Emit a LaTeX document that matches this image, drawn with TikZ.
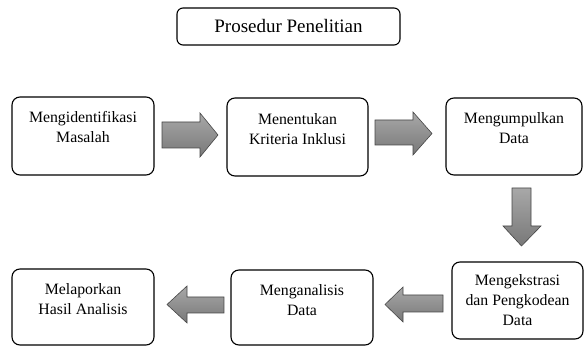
\documentclass[tikz,border=0pt]{standalone}
\usepackage{fontspec}
\setmainfont{Liberation Serif}
\begin{document}
\begin{tikzpicture}[x=1pt,y=-1pt,
  stepbox/.style={draw=black, line width=1.1pt, rounded corners=8pt, fill=white, inner sep=0pt},
  steptext/.style={anchor=north, align=center, inner sep=0pt, font=\fontsize{15.8}{20}\selectfont},
  blockarrow/.style={draw={rgb,255:red,70;green,70;blue,70}, line width=0.6pt,
    top color={rgb,255:red,168;green,168;blue,168}, bottom color={rgb,255:red,120;green,120;blue,120}}]
\useasboundingbox (0,0) rectangle (584,347);

% title
\node[stepbox, rounded corners=6pt, minimum width=223pt, minimum height=37pt,
      font=\fontsize{19}{22}\selectfont] (title) at (288.5,26.5) {Prosedur Penelitian};

% boxes
\node[stepbox, minimum width=142pt, minimum height=78pt] (b1) at (83,136) {};
\node[stepbox, minimum width=141pt, minimum height=78pt] (b2) at (297.5,137) {};
\node[stepbox, minimum width=136pt, minimum height=77pt] (b3) at (514,136.5) {};
\node[stepbox, minimum width=131pt, minimum height=77pt] (b4) at (517.5,300.5) {};
\node[stepbox, minimum width=142pt, minimum height=75pt] (b5) at (302,307.5) {};
\node[stepbox, minimum width=142pt, minimum height=76pt] (b6) at (83,307) {};

% texts
\node[steptext] (t1) at ([yshift=-15pt]b1.north) {Mengidentifikasi\\Masalah};
\node[steptext] (t2) at ([yshift=-16pt]b2.north) {Menentukan\\Kriteria Inklusi};
\node[steptext] (t3) at ([yshift=-15pt]b3.north) {Mengumpulkan\\Data};
\node[steptext] (t4) at ([yshift=-13pt]b4.north) {Mengekstrasi\\dan Pengkodean\\Data};
\node[steptext] (t5) at ([yshift=-15pt]b5.north) {Menganalisis\\Data};
\node[steptext] (t6) at ([yshift=-15pt]b6.north) {Melaporkan\\Hasil Analisis};

% block arrows
\path[blockarrow] (162,122) -- (200,122) -- (200,113) -- (218,135) -- (200,157) -- (200,148) -- (162,148) -- cycle;
\path[blockarrow] (375,120) -- (413,120) -- (413,112) -- (432,133.5) -- (413,155) -- (413,145) -- (375,145) -- cycle;
\path[blockarrow] (512,188) -- (531,188) -- (531,226) -- (541,226) -- (521.5,246) -- (503,226) -- (512,226) -- cycle;
\path[blockarrow] (443,295) -- (403,295) -- (403,287) -- (385,304.5) -- (403,322) -- (403,312) -- (443,312) -- cycle;
\path[blockarrow] (224,297) -- (187,297) -- (187,286) -- (167,304.5) -- (187,323) -- (187,313) -- (224,313) -- cycle;
\end{tikzpicture}
\end{document}
